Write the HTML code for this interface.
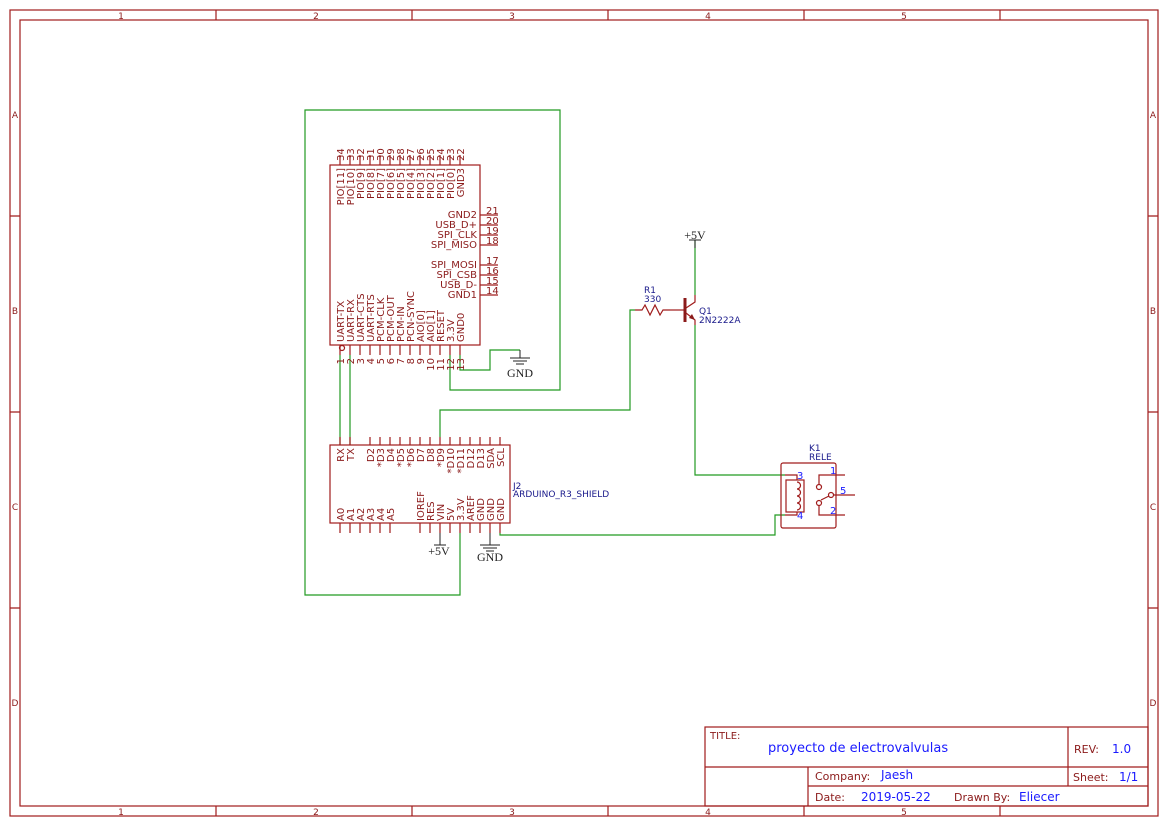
<!DOCTYPE html>
<html><head><meta charset="utf-8"><style>
html,body{margin:0;padding:0;background:#fff;}
svg{display:block;}
text{font-family:"DejaVu Sans","Liberation Sans",sans-serif;}
.r{fill:#8b1a1a;}
.b{fill:#1a1aff;}
.n{fill:#1a1a8b;}
</style></head><body>
<svg width="1169" height="827" viewBox="0 0 1169 827" xmlns="http://www.w3.org/2000/svg">
<g fill="none" stroke="#a01c1c" stroke-width="1.2">
<rect x="10" y="10" width="1148" height="806"/>
<rect x="20" y="20" width="1128" height="786"/>
<path d="M216 10V20M412 10V20M608 10V20M804 10V20M1000 10V20M216 806V816M412 806V816M608 806V816M804 806V816M1000 806V816"/>
<path d="M10 216H20M10 412H20M10 608H20M1148 216H1158M1148 412H1158M1148 608H1158"/>
</g>
<g class="r" font-size="9" text-anchor="middle">
<text x="121" y="19">1</text><text x="316" y="19">2</text><text x="512" y="19">3</text><text x="708" y="19">4</text><text x="904" y="19">5</text>
<text x="121" y="815">1</text><text x="316" y="815">2</text><text x="512" y="815">3</text><text x="708" y="815">4</text><text x="904" y="815">5</text>
<text x="15" y="118">A</text><text x="15" y="314">B</text><text x="15" y="510">C</text><text x="15" y="706">D</text>
<text x="1153" y="118">A</text><text x="1153" y="314">B</text><text x="1153" y="510">C</text><text x="1153" y="706">D</text>
</g>
<g fill="none" stroke="#a01c1c" stroke-width="1.2">
<rect x="705" y="727" width="443" height="79"/>
<path d="M705 767H1148M808 786H1148M808 767V806M1068 727V786"/>
</g>
<text x="710" y="739" class="r" font-size="10">TITLE:</text>
<text x="768" y="752" class="b" font-size="13">proyecto de electrovalvulas</text>
<text x="1074" y="753" class="r" font-size="11">REV:</text>
<text x="1112" y="753" class="b" font-size="12">1.0</text>
<text x="815" y="780" class="r" font-size="11">Company:</text>
<text x="881" y="779" class="b" font-size="12">Jaesh</text>
<text x="1073" y="781" class="r" font-size="11">Sheet:</text>
<text x="1119" y="781" class="b" font-size="12">1/1</text>
<text x="815" y="801" class="r" font-size="11">Date:</text>
<text x="861" y="801" class="b" font-size="12">2019-05-22</text>
<text x="954" y="801" class="r" font-size="11">Drawn By:</text>
<text x="1019" y="801" class="b" font-size="12">Eliecer</text>

<g fill="none" stroke="#229a22" stroke-width="1.2">
<path d="M450 355V390H560V110H305V595H460V533"/>
<path d="M460 355V370H490V350H520"/>
<path d="M340 355V445M350 355V445"/>
<path d="M440 437V410H630V310H635"/>
<path d="M695 240V295M695 325V475H785"/>
<path d="M500 533V535H775V515H785"/>
</g>

<g fill="none" stroke="#a01c1c" stroke-width="1.2">
<rect x="330" y="165" width="150" height="180"/>
<path d="M340 155V165M350 155V165M360 155V165M370 155V165M380 155V165M390 155V165M400 155V165M410 155V165M420 155V165M430 155V165M440 155V165M450 155V165M460 155V165"/>
<path d="M340 345V355M350 345V355M360 345V355M370 345V355M380 345V355M390 345V355M400 345V355M410 345V355M420 345V355M430 345V355M440 345V355M450 345V355M460 345V355"/>
<path d="M480 215H498M480 225H498M480 235H498M480 245H498M480 265H498M480 275H498M480 285H498M480 295H498"/>
<circle cx="342" cy="348" r="2.5"/>
</g>
<g class="r" font-size="10">
<g>
<text transform="translate(344,161) rotate(-90)">34</text><text transform="translate(354,161) rotate(-90)">33</text><text transform="translate(364,161) rotate(-90)">32</text><text transform="translate(374,161) rotate(-90)">31</text><text transform="translate(384,161) rotate(-90)">30</text><text transform="translate(394,161) rotate(-90)">29</text><text transform="translate(404,161) rotate(-90)">28</text><text transform="translate(414,161) rotate(-90)">27</text><text transform="translate(424,161) rotate(-90)">26</text><text transform="translate(434,161) rotate(-90)">25</text><text transform="translate(444,161) rotate(-90)">24</text><text transform="translate(454,161) rotate(-90)">23</text><text transform="translate(464,161) rotate(-90)">22</text>
</g>
<g text-anchor="end">
<text transform="translate(344,168) rotate(-90)">PIO[11]</text><text transform="translate(354,168) rotate(-90)">PIO[10]</text><text transform="translate(364,168) rotate(-90)">PIO[9]</text><text transform="translate(374,168) rotate(-90)">PIO[8]</text><text transform="translate(384,168) rotate(-90)">PIO[7]</text><text transform="translate(394,168) rotate(-90)">PIO[6]</text><text transform="translate(404,168) rotate(-90)">PIO[5]</text><text transform="translate(414,168) rotate(-90)">PIO[4]</text><text transform="translate(424,168) rotate(-90)">PIO[3]</text><text transform="translate(434,168) rotate(-90)">PIO[2]</text><text transform="translate(444,168) rotate(-90)">PIO[1]</text><text transform="translate(454,168) rotate(-90)">PIO[0]</text><text transform="translate(464,168) rotate(-90)">GND3</text>
<text transform="translate(344,358) rotate(-90)">1</text><text transform="translate(354,358) rotate(-90)">2</text><text transform="translate(364,358) rotate(-90)">3</text><text transform="translate(374,358) rotate(-90)">4</text><text transform="translate(384,358) rotate(-90)">5</text><text transform="translate(394,358) rotate(-90)">6</text><text transform="translate(404,358) rotate(-90)">7</text><text transform="translate(414,358) rotate(-90)">8</text><text transform="translate(424,358) rotate(-90)">9</text><text transform="translate(434,358) rotate(-90)">10</text><text transform="translate(444,358) rotate(-90)">11</text><text transform="translate(454,358) rotate(-90)">12</text><text transform="translate(464,358) rotate(-90)">13</text>
<text x="477" y="218">GND2</text><text x="477" y="228">USB_D+</text><text x="477" y="238">SPI_CLK</text><text x="477" y="248">SPI_MISO</text>
<text x="477" y="268">SPI_MOSI</text><text x="477" y="278">SPI_CSB</text><text x="477" y="288">USB_D-</text><text x="477" y="298">GND1</text>
</g>
<g>
<text transform="translate(344,342) rotate(-90)">UART-TX</text><text transform="translate(354,342) rotate(-90)">UART-RX</text><text transform="translate(364,342) rotate(-90)">UART-CTS</text><text transform="translate(374,342) rotate(-90)">UART-RTS</text><text transform="translate(384,342) rotate(-90)">PCM-CLK</text><text transform="translate(394,342) rotate(-90)">PCM-OUT</text><text transform="translate(404,342) rotate(-90)">PCM-IN</text><text transform="translate(414,342) rotate(-90)">PCN-SYNC</text><text transform="translate(424,342) rotate(-90)">AIO[0]</text><text transform="translate(434,342) rotate(-90)">AIO[1]</text><text transform="translate(444,342) rotate(-90)">RESET</text><text transform="translate(454,342) rotate(-90)">3.3V</text><text transform="translate(464,342) rotate(-90)">GND0</text>
<text x="486" y="214">21</text><text x="486" y="224">20</text><text x="486" y="234">19</text><text x="486" y="244">18</text><text x="486" y="264">17</text><text x="486" y="274">16</text><text x="486" y="284">15</text><text x="486" y="294">14</text>
</g>
</g>

<g fill="none" stroke="#222" stroke-width="1">
<path d="M520 350V358M510 358H530M513 361H527M516 364H524"/>
<path d="M490 533V545M480 545H500M483 548H497M486 551H494"/>
<path d="M440 533V545M434 545H446"/>
<path d="M695 240V248M689 240H701"/>
</g>
<g fill="#222" font-size="12" text-anchor="middle">
<text x="520" y="377" style="font-family:'Liberation Serif',serif">GND</text>
<text x="490" y="561" style="font-family:'Liberation Serif',serif">GND</text>
<text x="439" y="555" style="font-family:'Liberation Serif',serif">+5V</text>
<text x="695" y="239" style="font-family:'Liberation Serif',serif">+5V</text>
</g>

<g fill="none" stroke="#a01c1c" stroke-width="1.2">
<rect x="330" y="445" width="180" height="78"/>
<path d="M340 437V445M350 437V445M370 437V445M380 437V445M390 437V445M400 437V445M410 437V445M420 437V445M430 437V445M440 437V445M450 437V445M460 437V445M470 437V445M480 437V445M490 437V445M500 437V445"/>
<path d="M340 523V533M350 523V533M360 523V533M370 523V533M380 523V533M390 523V533M420 523V533M430 523V533M440 523V533M450 523V533M460 523V533M470 523V533M480 523V533M490 523V533M500 523V533"/>
</g>
<g class="r" font-size="10" text-anchor="end">
<text transform="translate(344,448) rotate(-90)">RX</text><text transform="translate(354,448) rotate(-90)">TX</text><text transform="translate(374,448) rotate(-90)">D2</text><text transform="translate(384,448) rotate(-90)">*D3</text><text transform="translate(394,448) rotate(-90)">D4</text><text transform="translate(404,448) rotate(-90)">*D5</text><text transform="translate(414,448) rotate(-90)">*D6</text><text transform="translate(424,448) rotate(-90)">D7</text><text transform="translate(434,448) rotate(-90)">D8</text><text transform="translate(444,448) rotate(-90)">*D9</text><text transform="translate(454,448) rotate(-90)">*D10</text><text transform="translate(464,448) rotate(-90)">*D11</text><text transform="translate(474,448) rotate(-90)">D12</text><text transform="translate(484,448) rotate(-90)">D13</text><text transform="translate(494,448) rotate(-90)">SDA</text><text transform="translate(504,448) rotate(-90)">SCL</text>
</g>
<g class="r" font-size="10">
<text transform="translate(344,521) rotate(-90)">A0</text><text transform="translate(354,521) rotate(-90)">A1</text><text transform="translate(364,521) rotate(-90)">A2</text><text transform="translate(374,521) rotate(-90)">A3</text><text transform="translate(384,521) rotate(-90)">A4</text><text transform="translate(394,521) rotate(-90)">A5</text>
<text transform="translate(424,521) rotate(-90)">IOREF</text><text transform="translate(434,521) rotate(-90)">RES</text><text transform="translate(444,521) rotate(-90)">VIN</text><text transform="translate(454,521) rotate(-90)">5V</text><text transform="translate(464,521) rotate(-90)">3.3V</text><text transform="translate(474,521) rotate(-90)">AREF</text><text transform="translate(484,521) rotate(-90)">GND</text><text transform="translate(494,521) rotate(-90)">GND</text><text transform="translate(504,521) rotate(-90)">GND</text>
</g>
<text x="513" y="489" class="n" font-size="9">J2</text>
<text x="513" y="497" class="n" font-size="9">ARDUINO_R3_SHIELD</text>

<g fill="none" stroke="#a01c1c" stroke-width="1.2">
<path d="M635 310H642L645 305L650 315L655 305L660 315L663 310H670"/>
<path d="M670 310H684"/>
<path d="M695 295V302L686 308M686 313L695 320V325"/>
</g>
<rect x="683.5" y="298" width="3" height="24" fill="#8b1a1a"/>
<path d="M695 320L689 318L692 314Z" fill="#8b1a1a"/>
<text x="644" y="293" class="n" font-size="9">R1</text>
<text x="644" y="302" class="n" font-size="9">330</text>
<text x="699" y="314" class="n" font-size="9">Q1</text>
<text x="699" y="323" class="n" font-size="9">2N2222A</text>

<g fill="none" stroke="#a01c1c" stroke-width="1.2">
<rect x="781" y="463" width="55" height="65" rx="2"/>
<rect x="786" y="480" width="18" height="32"/>
<path d="M785 475H797V480M785 515H797V512"/>
<path d="M797 482a3 3 0 0 1 0 7a3 3 0 0 1 0 7a3 3 0 0 1 0 7a3 3 0 0 1 0 7"/>
<path d="M819 484V475H845M819 505V515H845M834 495H855M821 500L829 496"/>
<circle cx="819" cy="487" r="2.5"/><circle cx="819" cy="503" r="2.5"/><circle cx="831" cy="495" r="2.5"/>
</g>
<g class="b" font-size="10">
<text x="797" y="479">3</text><text x="797" y="519">4</text><text x="830" y="474">1</text><text x="830" y="514">2</text><text x="840" y="494">5</text>
</g>
<text x="809" y="451" class="n" font-size="9">K1</text>
<text x="809" y="460" class="n" font-size="9">RELE</text>
</svg>
</body></html>
